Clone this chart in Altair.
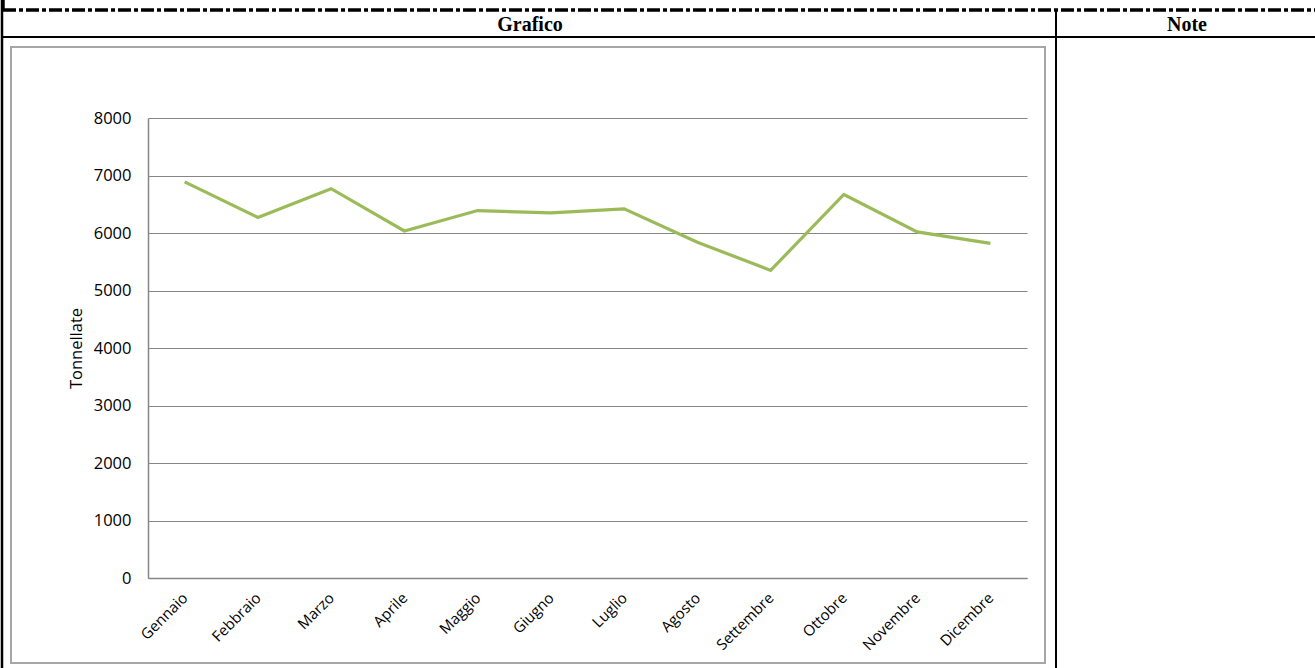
import altair as alt
import pandas as pd

# Monthly tonnage
mesi = ["Gennaio", "Febbraio", "Marzo", "Aprile", "Maggio", "Giugno",
        "Luglio", "Agosto", "Settembre", "Ottobre", "Novembre", "Dicembre"]
tonnellate = [6890, 6270, 6770, 6035, 6390, 6350, 6420, 5840, 5350, 6670, 6020, 5820]
y_ticks = [0, 1000, 2000, 3000, 4000, 5000, 6000, 7000, 8000]
header_labels = ["Grafico", "Note"]

df = pd.DataFrame({"Mese": mesi, "Tonnellate": tonnellate})
one = pd.DataFrame({"k": [0]})

# Plot-area geometry (the whole page is 1315 x 668)
PL, PT = 148, 118          # plot origin on the page
PW, PH = 879, 460          # plot size


def px(x):
    return x - PL


def py(y):
    return y - PT


line = alt.Chart(df).mark_line(color="#9BBB59", strokeWidth=3.2).encode(
    x=alt.X(
        "Mese:N",
        sort=mesi,
        scale=alt.Scale(type="point", padding=0.5),
        axis=alt.Axis(
            title=None, labelAngle=-45, labelAlign="right", labelBaseline="middle",
            labelPadding=17, ticks=False, grid=False, domainColor="#868686",
            domainWidth=1.5, labelFont="Open Sans", labelFontSize=15,
            labelColor="#000000", labelOverlap=False,
        ),
    ),
    y=alt.Y(
        "Tonnellate:Q",
        scale=alt.Scale(domain=[0, 8000], nice=False),
        axis=alt.Axis(
            values=y_ticks, format="d", title="Tonnellate", ticks=False, grid=True,
            gridColor="#868686", gridWidth=1, domainColor="#868686", domainWidth=1.5,
            labelPadding=17, labelFont="Open Sans", labelFontSize=16.5,
            labelColor="#000000", titleFont="Open Sans", titleFontSize=16.5,
            titleFontWeight="normal", titleColor="#000000",
            titleX=-72, titleY=PH / 2, titleAlign="center", titleBaseline="middle",
        ),
    ),
)

# Grey frame around the chart object
frame = alt.Chart(one).mark_rect(fill="transparent", stroke="#A6A6A6", strokeWidth=2).encode(
    x=alt.value(px(11)), x2=alt.value(px(1045)),
    y=alt.value(py(47)), y2=alt.value(py(663)),
)

# Table borders
top_dash = alt.Chart(one).mark_rule(color="#000000", strokeWidth=3.5, strokeDash=[13, 3, 4, 3]).encode(
    x=alt.value(px(3)), x2=alt.value(px(1315)), y=alt.value(py(10)),
)
header_rule = alt.Chart(one).mark_rule(color="#000000", strokeWidth=2).encode(
    x=alt.value(px(2)), x2=alt.value(px(1315)), y=alt.value(py(37)),
)
left_rule = alt.Chart(one).mark_rule(color="#000000", strokeWidth=2.5).encode(
    x=alt.value(px(2)), y=alt.value(py(0)), y2=alt.value(py(668)),
)
left_stub = alt.Chart(one).mark_rule(color="#000000", strokeWidth=3.5).encode(
    x=alt.value(px(3)), y=alt.value(py(0)), y2=alt.value(py(10)),
)
mid_rule = alt.Chart(one).mark_rule(color="#000000", strokeWidth=2).encode(
    x=alt.value(px(1056)), y=alt.value(py(10)), y2=alt.value(py(668)),
)

header_df = pd.DataFrame({"t": header_labels, "xc": [px(530), px(1187)]})
headers = alt.Chart(header_df).mark_text(
    font="Liberation Serif", fontWeight="bold", fontSize=20, color="#000000",
    baseline="alphabetic", align="center",
).encode(
    text="t:N",
    x=alt.X("xc:Q", scale=None),
    y=alt.value(py(31)),
)

chart = alt.layer(
    frame, line, top_dash, header_rule, left_rule, left_stub, mid_rule, headers
).properties(
    width=PW, height=PH,
    padding={"left": PL, "top": PT, "right": 1315 - PL - PW, "bottom": 668 - PT - PH},
    autosize=alt.AutoSizeParams(type="none"),
    background="#FFFFFF",
).configure_view(stroke=None)

chart.save("out.html", embed_options={"renderer": "svg", "actions": False})
